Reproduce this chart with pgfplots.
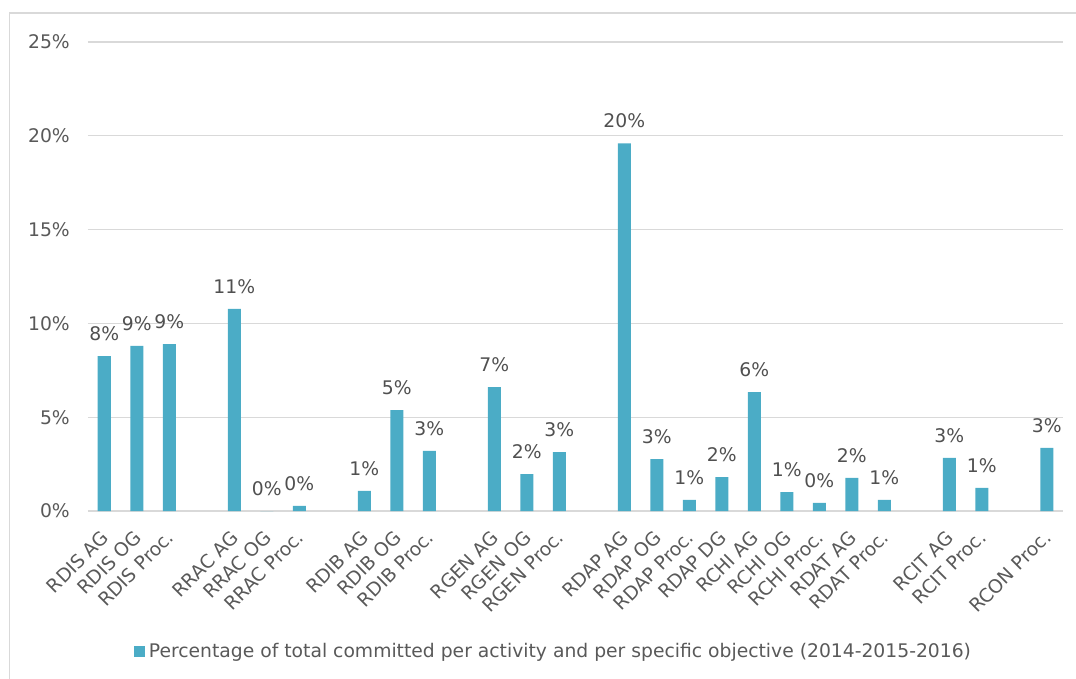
\documentclass[border=0pt]{standalone}
\usepackage{fontspec}
\setmainfont{DejaVu Sans}
\usepackage{pgfplots}
\pgfplotsset{compat=1.18}
\definecolor{barcol}{HTML}{4BACC6}
\definecolor{txtgray}{HTML}{595959}
\definecolor{datgray}{HTML}{505050}
\definecolor{gridgray}{HTML}{D9D9D9}
\begin{document}
\fontsize{18.75}{22}\selectfont
\begin{tikzpicture}
\useasboundingbox (0,0) rectangle (1076pt,678pt);
\draw[gridgray, line width=1.5pt] (9.5pt,-5pt) -- (9.5pt,665pt) -- (1080pt,665pt);
\begin{axis}[
  at={(88pt,167pt)}, anchor=south west,
  scale only axis, width=975pt, height=469pt,
  xmin=-0.5, xmax=29.5, ymin=0, ymax=25,
  ybar, bar width=13pt,
  axis line style={draw=none},
  major tick length=0pt,
  ymajorgrids, grid style={gridgray, line width=1.2pt},
  ytick={0,5,10,15,20,25},
  /pgf/number format/assume math mode=true,
  yticklabel={\pgfmathprintnumber{\tick}\%},
  yticklabel style={text=txtgray, anchor=east, inner sep=0pt, xshift=-18pt},
  xtick={0,...,29},
  xticklabels={RDIS AG, RDIS OG, RDIS Proc., {}, RRAC AG, RRAC OG, RRAC Proc., {}, RDIB AG, RDIB OG, RDIB Proc., {}, RGEN AG, RGEN OG, RGEN Proc., {}, RDAP AG, RDAP OG, RDAP Proc., RDAP DG, RCHI AG, RCHI OG, RCHI Proc., RDAT AG, RDAT Proc., {}, RCIT AG, RCIT Proc., {}, RCON Proc.},
  xticklabel style={text=txtgray, xshift=1pt, yshift=-23pt, rotate=45, anchor=east, inner sep=0pt},
  nodes near coords={\pgfmathprintnumber[fixed,precision=0]{\pgfplotspointmeta}\%},
  every node near coord/.append style={text=datgray, anchor=south, inner sep=0pt, yshift=15pt},
  legend style={at={(0.4774,-0.3)}, anchor=center, draw=none, fill=none, text=txtgray,
    /tikz/every even column/.append style={column sep=0pt}},
  legend cell align=left,
  legend image code/.code={\fill[barcol] (0pt,-5.5pt) rectangle (11pt,5.5pt); \path (13pt,0pt);},
]
\addplot[fill=barcol, draw=none] coordinates {
(0,8.26) (1,8.80) (2,8.90)
(4,10.77) (5,0) (6,0.27)
(8,1.07) (9,5.38) (10,3.20)
(12,6.60) (13,1.97) (14,3.14)
(16,19.60) (17,2.77) (18,0.59) (19,1.81) (20,6.34) (21,1.00) (22,0.43) (23,1.76) (24,0.59)
(26,2.83) (27,1.23)
(29,3.36)
};
\addlegendentry{Percentage of total committed per activity and per specific objective (2014-2015-2016)}
\end{axis}
\end{tikzpicture}
\end{document}
